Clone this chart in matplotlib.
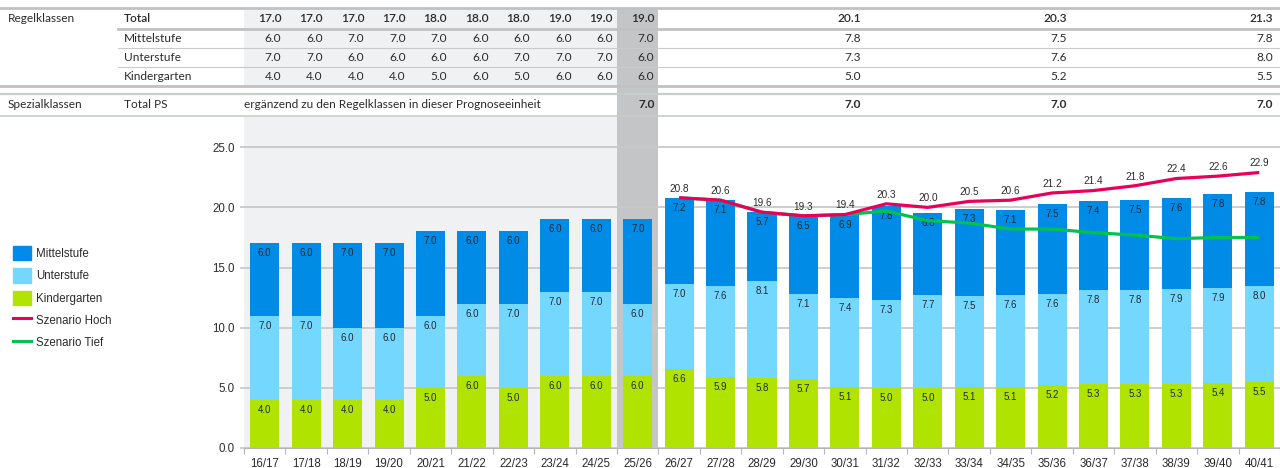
import matplotlib
matplotlib.use("Agg")
import matplotlib.pyplot as plt
import matplotlib.transforms as mtransforms
from matplotlib.patches import Rectangle, Patch
from matplotlib.lines import Line2D
import numpy as np

# school years, history up to 25/26, projection afterwards
years = ["16/17", "17/18", "18/19", "19/20", "20/21", "21/22", "22/23", "23/24", "24/25", "25/26",
         "26/27", "27/28", "28/29", "29/30", "30/31", "31/32", "32/33", "33/34", "34/35", "35/36",
         "36/37", "37/38", "38/39", "39/40", "40/41"]
mittelstufe = [6.0, 6.0, 7.0, 7.0, 7.0, 6.0, 6.0, 6.0, 6.0, 7.0,
               7.2, 7.1, 5.7, 6.5, 6.9, 7.8, 6.8, 7.3, 7.1, 7.5, 7.4, 7.5, 7.6, 7.8, 7.8]
unterstufe = [7.0, 7.0, 6.0, 6.0, 6.0, 6.0, 7.0, 7.0, 7.0, 6.0,
              7.0, 7.6, 8.1, 7.1, 7.4, 7.3, 7.7, 7.5, 7.6, 7.6, 7.8, 7.8, 7.9, 7.9, 8.0]
kindergarten = [4.0, 4.0, 4.0, 4.0, 5.0, 6.0, 5.0, 6.0, 6.0, 6.0,
                6.6, 5.9, 5.8, 5.7, 5.1, 5.0, 5.0, 5.1, 5.1, 5.2, 5.3, 5.3, 5.3, 5.4, 5.5]

scenario_years = years[10:]
szenario_hoch = [20.8, 20.6, 19.6, 19.3, 19.4, 20.3, 20.0, 20.5, 20.6, 21.2, 21.4, 21.8, 22.4, 22.6, 22.9]
szenario_tief = [20.8, 20.6, 19.6, 19.3, 19.4, 19.7, 18.9, 18.7, 18.2, 18.2, 17.9, 17.7, 17.4, 17.5, 17.5]

# table: history columns + three summary years
history_years = years[:10]
summary_years = ["31/32", "35/36", "40/41"]
spezial_years = ["25/26", "31/32", "35/36", "40/41"]
spezial_total_ps = [7.0, 7.0, 7.0, 7.0]

C_MITTEL = "#008be6"
C_UNTER = "#74d8fe"
C_KIGA = "#b0e400"
C_HOCH = "#e8005a"
C_TIEF = "#00c24e"
C_HIST = "#f0f1f3"
C_NOW = "#c4c5c7"
C_GRID = "#c9c9cb"
TXT = "#2b2b2b"
TFS = 8.6  # table font size

CHART_FONT = ["Liberation Sans", "DejaVu Sans"]
TABLE_FONT = ["Lato", "DejaVu Sans"]
plt.rcParams["font.family"] = CHART_FONT

W, H = 1280, 468
fig = plt.figure(figsize=(W / 100, H / 100), dpi=100)


def fy(px):
    # distance from the top edge in pixels -> figure fraction
    return 1 - px / H


ax = fig.add_axes([244 / W, 20 / H, 1 - 244 / W, (448 - 117) / H])
x = np.arange(len(years))
xmax = 24.43
ax.set_xlim(-0.5, xmax)
ax.set_ylim(0, (448 - 117) / 12.03)

blend = mtransforms.blended_transform_factory(ax.transData, fig.transFigure)
now = years.index("25/26")

# background: light history area, dark column for the current year
ax.axvspan(-0.5, now - 0.5, color=C_HIST, lw=0, zorder=0)
ax.add_patch(Rectangle((-0.5, fy(86.5)), now, fy(8) - fy(86.5), transform=blend,
                       color=C_HIST, lw=0, clip_on=False, zorder=0))
ax.add_patch(Rectangle((now - 0.5, 20 / H), 1, fy(8) - 20 / H, transform=blend,
                       color=C_NOW, lw=0, clip_on=False, zorder=0.2))

# stacked bars
w = 0.7
bottom = np.zeros(len(years))
for vals, col in [(kindergarten, C_KIGA), (unterstufe, C_UNTER), (mittelstufe, C_MITTEL)]:
    vals = np.array(vals)
    ax.bar(x, vals, w, bottom=bottom, color=col, zorder=2)
    for xi, b, v in zip(x, bottom, vals):
        ax.annotate(f"{v:.1f}", (xi, b + v), xytext=(0, -7.2), textcoords="offset points",
                    ha="center", va="center", fontsize=7, color="#1e2a36", zorder=3)
    bottom += vals

# scenario lines
xs = np.array([years.index(y) for y in scenario_years])
ax.plot(xs, szenario_tief, color=C_TIEF, lw=2.3, zorder=4, solid_capstyle="butt")
ax.plot(xs, szenario_hoch, color=C_HOCH, lw=2.3, zorder=5, solid_capstyle="butt")
for xi, v in zip(xs, szenario_hoch):
    ax.annotate(f"{v:.1f}", (xi, v), xytext=(0, 6.6), textcoords="offset points",
                ha="center", va="center", fontsize=7.2, color=TXT, zorder=6)

# axes styling
ax.set_yticks([0, 5, 10, 15, 20, 25])
ax.set_yticklabels([f"{t:.1f}" for t in [0, 5, 10, 15, 20, 25]])
ax.grid(axis="y", color=C_GRID, lw=1.3)
ax.set_axisbelow(True)
ax.set_xticks(x)
ax.set_xticklabels(years)
ax.set_xticks(np.arange(-0.5, len(years), 1), minor=True)
ax.tick_params(axis="x", which="major", length=0, pad=7, labelsize=8.3, labelcolor=TXT)
ax.tick_params(axis="x", which="minor", length=4, color="#b5b5b5", width=0.8)
ax.tick_params(axis="y", length=3, color=C_GRID, width=1.3, pad=3.6, labelsize=8.3, labelcolor=TXT)
for side in ["top", "right", "left"]:
    ax.spines[side].set_visible(False)
ax.spines["bottom"].set_color("#b5b5b5")
ax.spines["bottom"].set_zorder(2.5)

# table above the chart
pad = dict(fig=fig, x=-4, units="dots")
right_hist = mtransforms.offset_copy(blend, **pad)
totals = [m + u + k for m, u, k in zip(mittelstufe, unterstufe, kindergarten)]
table_rows = [("Total", totals, 18, "semibold"),
              ("Mittelstufe", mittelstufe, 38.5, "normal"),
              ("Unterstufe", unterstufe, 57.5, "normal"),
              ("Kindergarten", kindergarten, 76.5, "normal")]
sum_edges = [now + 0.5 + (k + 1) * (xmax - now - 0.5) / 3 for k in range(3)]

fig.text(8 / W, fy(18), "Regelklassen", ha="left", va="center", fontsize=TFS, color=TXT, family=TABLE_FONT)
for label, vals, ypx, weight in table_rows:
    fig.text(124 / W, fy(ypx), label, ha="left", va="center", fontsize=TFS, color=TXT,
             family=TABLE_FONT, weight=weight)
    for yr in history_years:
        i = years.index(yr)
        ax.text(i + 0.5, fy(ypx), f"{vals[i]:.1f}", transform=right_hist, ha="right", va="center",
                fontsize=TFS, color=TXT, family=TABLE_FONT, weight=weight, clip_on=False)
    for yr, edge in zip(summary_years, sum_edges):
        i = years.index(yr)
        ax.text(edge, fy(ypx), f"{vals[i]:.1f}", transform=right_hist, ha="right", va="center",
                fontsize=TFS, color=TXT, family=TABLE_FONT, weight=weight, clip_on=False)

fig.text(8 / W, fy(105), "Spezialklassen", ha="left", va="center", fontsize=TFS, color=TXT, family=TABLE_FONT)
fig.text(124 / W, fy(105), "Total PS", ha="left", va="center", fontsize=TFS, color=TXT, family=TABLE_FONT)
ax.text(-0.5, fy(105), "ergänzend zu den Regelklassen in dieser Prognoseeinheit", transform=blend,
        ha="left", va="center", fontsize=TFS, color=TXT, family=TABLE_FONT, clip_on=False)
spezial_x = [now + 0.5] + sum_edges
for xe, v in zip(spezial_x, spezial_total_ps):
    ax.text(xe, fy(105), f"{v:.1f}", transform=right_hist, ha="right", va="center",
            fontsize=TFS, color=TXT, family=TABLE_FONT, weight="bold", clip_on=False)

# table rules
rules = [(0, 8.3, "#c0c1c3", 2.0), (118, 29.3, "#c0c1c3", 2.0), (118, 47.8, "#cacaca", 0.8),
         (118, 66.8, "#cacaca", 0.8), (0, 86.3, "#c0c1c3", 2.0), (0, 94.3, "#c6cec9", 1.6),
         (0, 115.6, "#c6cec9", 1.2)]
for x0, ypx, col, lw in rules:
    fig.add_artist(Line2D([x0 / W, 1], [fy(ypx), fy(ypx)], color=col, lw=lw))

# legend on the left
handles = [Patch(color=C_MITTEL, label="Mittelstufe"),
           Patch(color=C_UNTER, label="Unterstufe"),
           Patch(color=C_KIGA, label="Kindergarten"),
           Line2D([], [], color=C_HOCH, lw=2.2, label="Szenario Hoch"),
           Line2D([], [], color=C_TIEF, lw=2.2, label="Szenario Tief")]
fig.legend(handles=handles, loc="upper left", bbox_to_anchor=(13 / W, fy(246)), frameon=False,
           fontsize=8.3, handlelength=1.55, handleheight=1.55, handletextpad=0.45,
           labelspacing=0.68, borderpad=0, borderaxespad=0, labelcolor=TXT)

fig.savefig("out.png", dpi=100)
